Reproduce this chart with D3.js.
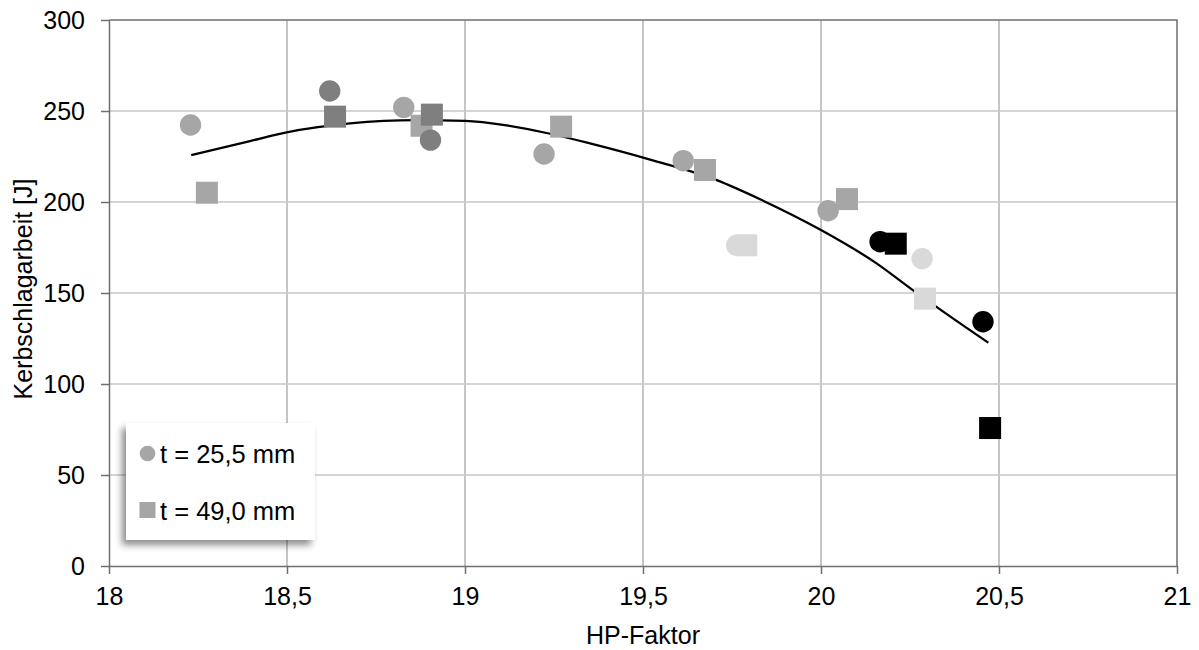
<!DOCTYPE html>
<html>
<head>
<meta charset="utf-8">
<script src="https://cdn.jsdelivr.net/npm/d3@7"></script>
<style>
  body { margin: 0; background: #fff; }
  svg { font-family: "Liberation Sans", Arial, sans-serif; }
</style>
</head>
<body>
<script>
// values
var xTicks = [18, 18.5, 19, 19.5, 20, 20.5, 21];
var yTicks = [0, 50, 100, 150, 200, 250, 300];

// t = 25,5 mm (circles), split by shade
var c25Light = [[18.229, 242.3], [18.828, 252], [19.222, 226.4], [19.613, 222.7], [20.02, 195.2]];
var c25Dark = [[18.62, 261], [18.903, 234]];
var c25Pale = [[19.763, 176.2], [20.284, 168.9]];
var c25Black = [[20.166, 178.2], [20.455, 134.2]];

// t = 49,0 mm (squares)
var s49Light = [[18.275, 205.1], [18.878, 241.9], [19.27, 241.4], [19.674, 217.6], [20.073, 201.6]];
var s49Dark = [[18.635, 246.9], [18.907, 248]];
var s49Pale = [[19.79, 176.2], [20.292, 146.9]];
var s49Black = [[20.21, 177.1], [20.475, 75.8]];

// trend line, sampled along the curve
var trend = [[18.231, 225.8], [18.396, 233.5], [18.499, 238.3], [18.677, 243.2], [18.864, 245.0],
             [19.0, 244.6], [19.117, 242.1], [19.239, 237.5], [19.351, 232.2], [19.52, 223.3],
             [19.707, 212.0], [19.829, 201.5], [20.0, 184.6], [20.156, 166.3], [20.258, 151.6],
             [20.47, 122.7]];

var legendLabels = ["t = 25,5 mm", "t = 49,0 mm"];

var width = 1199, height = 650;
var mLeft = 109, mRight = 1177, mTop = 20, mBottom = 566;

var x = d3.scaleLinear().domain([18, 21]).range([mLeft, mRight]);
var y = d3.scaleLinear().domain([0, 300]).range([mBottom, mTop]);

var de = d3.formatLocale({decimal: ",", thousands: ".", grouping: [3], currency: ["", " €"]});
var fmt = de.format("~g");

var svg = d3.select("body").append("svg")
    .attr("width", width)
    .attr("height", height);

var defs = svg.append("defs");
var shadow = defs.append("filter").attr("id", "shadow")
    .attr("x", "-20%").attr("y", "-20%").attr("width", "140%").attr("height", "140%");
shadow.append("feDropShadow")
    .attr("dx", -4).attr("dy", 5)
    .attr("stdDeviation", 3.5)
    .attr("flood-color", "#000")
    .attr("flood-opacity", 0.45);

// grid
svg.append("g").selectAll("line")
    .data(xTicks.slice(1, -1))
    .enter().append("line")
    .attr("x1", function(d) { return x(d); })
    .attr("x2", function(d) { return x(d); })
    .attr("y1", mTop).attr("y2", mBottom)
    .style("stroke", "#a6a6a6")
    .style("stroke-width", 1.3);

svg.append("g").selectAll("line")
    .data(yTicks.slice(1, -1))
    .enter().append("line")
    .attr("x1", mLeft).attr("x2", mRight)
    .attr("y1", function(d) { return y(d); })
    .attr("y2", function(d) { return y(d); })
    .style("stroke", "#c6c6c6")
    .style("stroke-width", 1.3);

// frame top / right
svg.append("path")
    .attr("d", "M" + mLeft + "," + mTop + "H" + mRight + "V" + mBottom)
    .style("fill", "none")
    .style("stroke", "#6f6f6f")
    .style("stroke-width", 1.5);

// axes
var xAxis = svg.append("g")
    .attr("transform", "translate(0," + mBottom + ")")
    .call(d3.axisBottom(x).tickValues(xTicks).tickFormat(fmt).tickSize(8).tickSizeOuter(0).tickPadding(13));

var yAxis = svg.append("g")
    .attr("transform", "translate(" + mLeft + ",0)")
    .call(d3.axisLeft(y).tickValues(yTicks).tickSize(8).tickSizeOuter(0).tickPadding(16));

[xAxis, yAxis].forEach(function(a) {
  a.select(".domain").style("stroke", "#6f6f6f").style("stroke-width", 1.5);
  a.selectAll(".tick line").style("stroke", "#6f6f6f").style("stroke-width", 1.5);
  a.selectAll("text").style("font-size", "25px").style("fill", "#000")
    .style("font-family", "Liberation Sans, Arial, sans-serif");
});

// axis titles
svg.append("text")
    .attr("x", (mLeft + mRight) / 2)
    .attr("y", 644)
    .attr("text-anchor", "middle")
    .style("font-size", "25px")
    .text("HP-Faktor");

svg.append("text")
    .attr("transform", "translate(32," + 289 + ")rotate(-90)")
    .attr("text-anchor", "middle")
    .style("font-size", "25px")
    .text("Kerbschlagarbeit [J]");

// trend line
var line = d3.line()
    .x(function(d) { return x(d[0]); })
    .y(function(d) { return y(d[1]); })
    .curve(d3.curveMonotoneX);

svg.append("path")
    .datum(trend)
    .attr("d", line)
    .style("fill", "none")
    .style("stroke", "#000")
    .style("stroke-width", 2.3);

// markers
var R = 10.7, S = 22;
var marks = svg.append("g");

function drawCircles(data, color) {
  marks.selectAll(null)
      .data(data)
      .enter().append("circle")
      .attr("cx", function(d) { return x(d[0]); })
      .attr("cy", function(d) { return y(d[1]); })
      .attr("r", R)
      .style("fill", color);
}

function drawSquares(data, color) {
  marks.selectAll(null)
      .data(data)
      .enter().append("rect")
      .attr("x", function(d) { return x(d[0]) - S / 2; })
      .attr("y", function(d) { return y(d[1]) - S / 2; })
      .attr("width", S).attr("height", S)
      .style("fill", color);
}

drawCircles(c25Light, "#a6a6a6");
drawSquares(s49Light, "#a6a6a6");
drawCircles(c25Dark, "#7f7f7f");
drawSquares(s49Dark, "#7f7f7f");
drawCircles(c25Pale, "#d9d9d9");
drawSquares(s49Pale, "#d9d9d9");
drawCircles(c25Black, "#000");
drawSquares(s49Black, "#000");

// legend
var lg = svg.append("g");
lg.append("rect")
    .attr("x", 126).attr("y", 423)
    .attr("width", 189).attr("height", 117)
    .style("fill", "#fff")
    .attr("filter", "url(#shadow)");

lg.append("circle")
    .attr("cx", 147.5).attr("cy", 453.5).attr("r", 7.8)
    .style("fill", "#a6a6a6");
lg.append("rect")
    .attr("x", 139.5).attr("y", 502).attr("width", 16).attr("height", 16)
    .style("fill", "#a6a6a6");

lg.selectAll("text")
    .data(legendLabels)
    .enter().append("text")
    .attr("x", 160)
    .attr("y", function(d, i) { return 462.5 + i * 57; })
    .style("font-size", "25.5px")
    .text(function(d) { return d; });
</script>
</body>
</html>
